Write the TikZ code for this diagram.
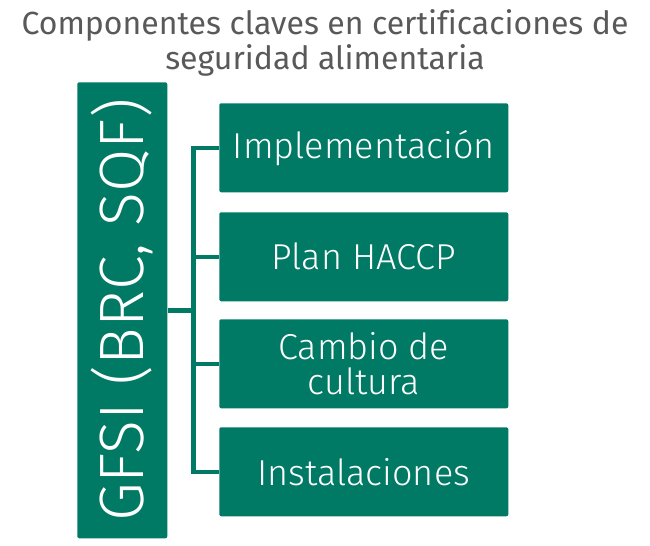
\documentclass[tikz,border=0pt]{standalone}
\usepackage{fontspec}
\setmainfont{Fira Sans Light}
\newfontfamily\titlefont{Fira Sans}[Ligatures=NoCommon]
\definecolor{teal}{HTML}{007A65}
\definecolor{titlegray}{HTML}{595959}
\begin{document}
\begin{tikzpicture}[x=0.75pt,y=-0.75pt,
  item/.style={draw=none,fill=teal,rounded corners=1.5pt,minimum width=289*0.75pt,minimum height=89*0.75pt,
    text=white,font=\fontsize{27}{26}\selectfont,align=center,inner sep=0pt,anchor=north west},
  conn/.style={draw=teal,line width=3.4pt}]
\useasboundingbox (0,0) rectangle (650,546);
\node[text=titlegray,font=\titlefont\fontsize{24}{26.25}\selectfont,align=center,anchor=center] (title) at (325,43)
  {Componentes claves en certificaciones de\\seguridad alimentaria};
\node[fill=teal,rounded corners=1.5pt,minimum width=90*0.75pt,minimum height=456*0.75pt,inner sep=0pt,anchor=north west] (gfsi) at (77,82) {};
\node[text=white,font=\fontsize{47}{47}\selectfont,rotate=90,anchor=center] (gfsitext) at (gfsi.center) {GFSI (BRC, SQF)};
\node[item] (b1) at (219,103) {Implementación};
\node[item] (b2) at (219,212) {Plan HACCP};
\node[item] (b3) at (219,319) {Cambio de\\cultura};
\node[item] (b4) at (219,427) {Instalaciones};
\draw[conn] (gfsi.east) -- ++(26,0) coordinate (j);
\draw[conn] (j) |- (b1.west);
\draw[conn] (j) |- (b2.west);
\draw[conn] (j) |- (b3.west);
\draw[conn] (j) |- (b4.west);
\end{tikzpicture}
\end{document}
